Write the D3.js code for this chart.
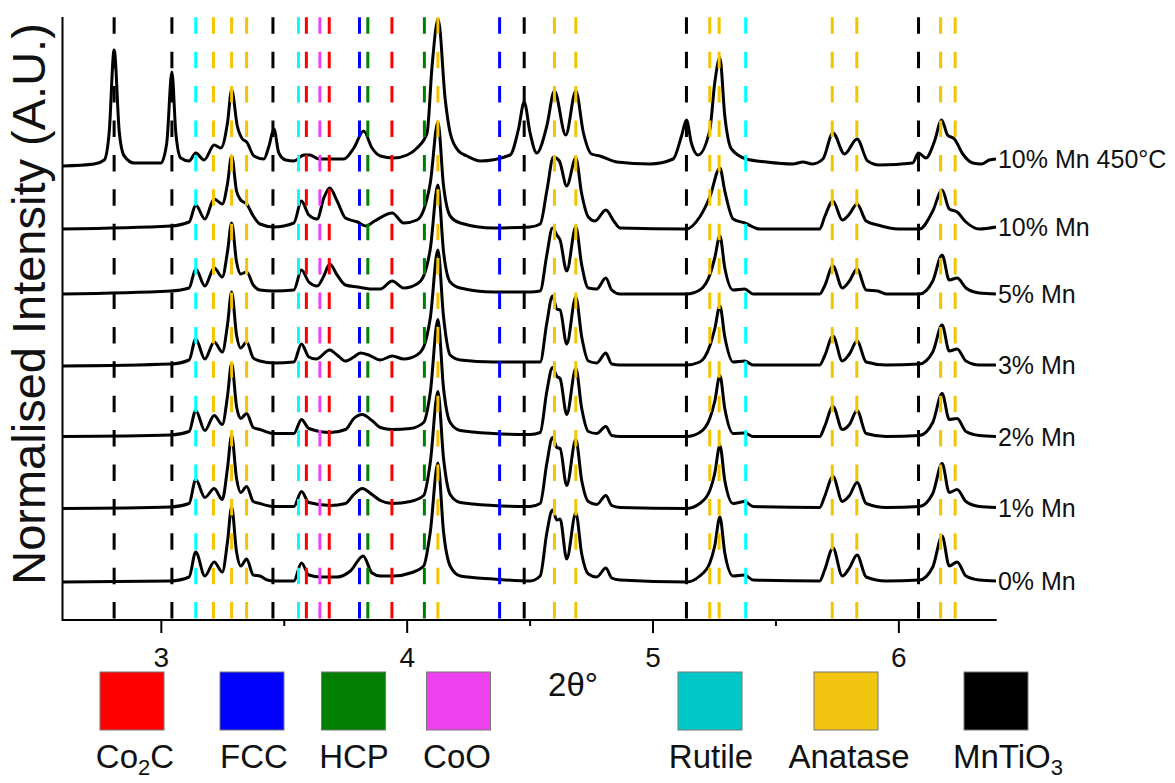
<!DOCTYPE html>
<html>
<head>
<meta charset="utf-8">
<script src="https://cdn.jsdelivr.net/npm/d3@7"></script>
<style>
  html, body { margin: 0; padding: 0; background: #fff; }
  svg { display: block; font-family: "Liberation Sans", Arial, sans-serif; }
</style>
</head>
<body>
<svg id="chart" width="1175" height="783"></svg>
<script>
// ---- Diffraction patterns: [2θ (deg), intensity above the trace offset] ----
const mn0 = [[2.60,0],[3.04,0.01],[3.115,0.05],[3.142,0.30],[3.179,0.06],[3.217,0.20],[3.250,0.10],[3.271,0.40],[3.288,0.75],[3.308,0.30],[3.325,0.16],[3.349,0.23],[3.376,0.07],[3.403,0.06],[3.433,0.02],[3.460,0.01],[3.541,0.01],[3.572,0.19],[3.602,0.07],[3.650,0.05],[3.717,0.05],[3.771,0.11],[3.823,0.26],[3.859,0.09],[3.893,0.06],[3.947,0.06],[4.015,0.09],[4.069,0.16],[4.096,0.50],[4.127,1.19],[4.150,0.50],[4.177,0.16],[4.218,0.06],[4.353,0.03],[4.502,0.01],[4.543,0.06],[4.570,0.49],[4.593,0.72],[4.611,0.62],[4.624,0.63],[4.651,0.23],[4.688,0.69],[4.712,0.28],[4.739,0.08],[4.773,0.05],[4.810,0.14],[4.834,0.04],[4.868,0.02],[5.138,0],[5.192,0.06],[5.233,0.19],[5.253,0.36],[5.274,0.65],[5.294,0.29],[5.328,0.06],[5.375,0.07],[5.409,0.02],[5.680,0.01],[5.700,0.12],[5.734,0.34],[5.772,0.06],[5.801,0.14],[5.832,0.27],[5.869,0.05],[5.950,0.01],[6.086,0.02],[6.140,0.15],[6.178,0.46],[6.207,0.16],[6.239,0.20],[6.275,0.06],[6.329,0.02],[6.397,0.01]];
const mn1 = [[2.60,0],[3.04,0.015],[3.115,0.05],[3.142,0.29],[3.179,0.11],[3.217,0.20],[3.250,0.09],[3.271,0.40],[3.288,0.73],[3.308,0.30],[3.325,0.16],[3.349,0.22],[3.376,0.07],[3.403,0.05],[3.460,0.02],[3.541,0.02],[3.572,0.17],[3.602,0.06],[3.690,0.03],[3.751,0.05],[3.785,0.14],[3.819,0.20],[3.859,0.14],[3.893,0.08],[3.941,0.05],[4.015,0.07],[4.069,0.13],[4.096,0.46],[4.127,1.17],[4.150,0.50],[4.177,0.14],[4.218,0.06],[4.353,0.03],[4.502,0.02],[4.543,0.05],[4.570,0.45],[4.593,0.71],[4.611,0.61],[4.624,0.60],[4.651,0.23],[4.688,0.69],[4.712,0.28],[4.739,0.07],[4.773,0.04],[4.810,0.13],[4.834,0.03],[4.868,0.01],[5.138,0],[5.192,0.05],[5.233,0.18],[5.253,0.35],[5.274,0.63],[5.294,0.28],[5.328,0.05],[5.375,0.07],[5.409,0.02],[5.680,0.01],[5.700,0.12],[5.734,0.32],[5.772,0.07],[5.801,0.13],[5.832,0.26],[5.869,0.05],[5.950,0.01],[6.086,0.02],[6.140,0.15],[6.178,0.45],[6.207,0.16],[6.239,0.19],[6.275,0.07],[6.329,0.02],[6.397,0.01]];
const mn2 = [[2.60,0],[3.04,0.015],[3.115,0.05],[3.142,0.26],[3.179,0.06],[3.217,0.21],[3.250,0.12],[3.271,0.40],[3.288,0.73],[3.308,0.30],[3.325,0.18],[3.349,0.23],[3.376,0.09],[3.403,0.07],[3.460,0.03],[3.541,0.03],[3.572,0.17],[3.602,0.08],[3.690,0.04],[3.751,0.07],[3.785,0.18],[3.819,0.22],[3.859,0.16],[3.893,0.09],[3.941,0.07],[4.015,0.08],[4.069,0.14],[4.096,0.44],[4.127,1.17],[4.150,0.48],[4.177,0.14],[4.218,0.06],[4.353,0.03],[4.502,0.02],[4.543,0.04],[4.570,0.45],[4.593,0.69],[4.611,0.60],[4.624,0.58],[4.651,0.22],[4.688,0.68],[4.712,0.28],[4.739,0.05],[4.773,0.03],[4.810,0.10],[4.834,0.01],[4.868,0],[5.138,0],[5.192,0.04],[5.233,0.18],[5.253,0.35],[5.274,0.61],[5.294,0.28],[5.328,0.03],[5.375,0.035],[5.409,0],[5.680,0],[5.700,0.10],[5.734,0.30],[5.772,0.07],[5.801,0.12],[5.832,0.26],[5.869,0.03],[5.950,0],[6.086,0.01],[6.140,0.14],[6.178,0.43],[6.207,0.17],[6.239,0.18],[6.275,0.05],[6.329,0.01],[6.397,0]];
const mn3 = [[2.60,-0.01],[3.04,0.01],[3.115,0.05],[3.142,0.26],[3.179,0.06],[3.217,0.23],[3.250,0.13],[3.271,0.40],[3.288,0.73],[3.308,0.30],[3.325,0.17],[3.349,0.23],[3.376,0.07],[3.403,0.04],[3.460,0.02],[3.541,0.03],[3.572,0.21],[3.602,0.08],[3.632,0.06],[3.687,0.15],[3.717,0.10],[3.751,0.04],[3.785,0.08],[3.812,0.12],[3.845,0.10],[3.893,0.05],[3.941,0.09],[3.988,0.06],[4.042,0.10],[4.069,0.18],[4.096,0.47],[4.127,1.15],[4.150,0.48],[4.177,0.10],[4.218,0.05],[4.353,0.03],[4.502,0.03],[4.543,0.03],[4.570,0.42],[4.593,0.69],[4.611,0.56],[4.624,0.55],[4.651,0.21],[4.688,0.68],[4.712,0.28],[4.739,0.04],[4.773,0.02],[4.810,0.12],[4.834,0.01],[4.868,0],[5.138,0],[5.192,0.03],[5.233,0.19],[5.253,0.36],[5.274,0.59],[5.294,0.28],[5.328,0.03],[5.375,0.04],[5.409,0],[5.680,0],[5.700,0.09],[5.734,0.29],[5.772,0.04],[5.801,0.11],[5.832,0.24],[5.869,0.03],[5.950,0],[6.086,0.01],[6.140,0.13],[6.178,0.40],[6.207,0.14],[6.239,0.16],[6.275,0.04],[6.329,0],[6.397,0]];
const mn5 = [[2.60,0],[3.04,0.03],[3.115,0.06],[3.142,0.25],[3.179,0.08],[3.217,0.26],[3.250,0.17],[3.271,0.42],[3.288,0.71],[3.308,0.32],[3.325,0.20],[3.349,0.22],[3.376,0.09],[3.403,0.04],[3.460,0.03],[3.541,0.04],[3.572,0.24],[3.602,0.12],[3.636,0.08],[3.663,0.18],[3.687,0.30],[3.717,0.19],[3.751,0.09],[3.800,0.07],[3.859,0.05],[3.893,0.05],[3.941,0.13],[3.988,0.06],[4.042,0.10],[4.069,0.18],[4.096,0.45],[4.127,1.09],[4.150,0.42],[4.177,0.12],[4.218,0.06],[4.353,0.02],[4.502,0.02],[4.543,0.03],[4.570,0.39],[4.593,0.66],[4.611,0.59],[4.624,0.54],[4.651,0.23],[4.688,0.67],[4.712,0.29],[4.739,0.06],[4.773,0.05],[4.810,0.16],[4.834,0.04],[4.868,0],[5.138,0],[5.192,0.04],[5.233,0.19],[5.253,0.36],[5.274,0.58],[5.294,0.26],[5.328,0.04],[5.375,0.05],[5.409,0],[5.680,0],[5.700,0.08],[5.734,0.28],[5.772,0.06],[5.801,0.13],[5.832,0.25],[5.869,0.04],[5.916,0.03],[5.950,0],[6.086,0],[6.140,0.13],[6.178,0.39],[6.207,0.14],[6.239,0.16],[6.275,0.06],[6.329,0.01],[6.397,0]];
const mn10 = [[2.60,0],[3.04,0.03],[3.115,0.07],[3.142,0.24],[3.179,0.10],[3.217,0.30],[3.250,0.25],[3.271,0.45],[3.288,0.73],[3.308,0.38],[3.325,0.29],[3.349,0.25],[3.376,0.13],[3.403,0.05],[3.460,0.02],[3.541,0.06],[3.572,0.28],[3.602,0.14],[3.636,0.10],[3.663,0.31],[3.687,0.41],[3.717,0.28],[3.751,0.11],[3.800,0.07],[3.833,0.03],[3.870,0.08],[3.941,0.16],[3.988,0.06],[4.042,0.09],[4.069,0.19],[4.096,0.46],[4.127,1.07],[4.150,0.43],[4.177,0.13],[4.218,0.06],[4.353,0.01],[4.502,0.02],[4.543,0.05],[4.570,0.38],[4.597,0.72],[4.621,0.68],[4.651,0.43],[4.688,0.71],[4.712,0.35],[4.739,0.12],[4.766,0.08],[4.810,0.19],[4.845,0.07],[4.868,0.01],[5.138,0],[5.192,0.12],[5.233,0.32],[5.274,0.61],[5.294,0.38],[5.328,0.10],[5.375,0.06],[5.438,0],[5.680,0],[5.700,0.12],[5.734,0.28],[5.772,0.09],[5.801,0.15],[5.832,0.25],[5.869,0.08],[5.916,0.04],[6.000,0],[6.086,0],[6.140,0.18],[6.178,0.39],[6.207,0.20],[6.239,0.17],[6.275,0.07],[6.329,0],[6.397,0.02]];
const mn10c450 = [[2.60,0],[2.729,0.02],[2.770,0.06],[2.790,0.34],[2.810,1.16],[2.831,0.34],[2.851,0.10],[2.892,0.03],[3.000,0.03],[3.024,0.23],[3.045,0.94],[3.061,0.33],[3.081,0.08],[3.115,0.05],[3.142,0.13],[3.176,0.06],[3.217,0.21],[3.244,0.18],[3.271,0.43],[3.288,0.76],[3.311,0.40],[3.332,0.27],[3.349,0.24],[3.379,0.10],[3.419,0.07],[3.440,0.20],[3.460,0.37],[3.480,0.13],[3.508,0.06],[3.541,0.05],[3.582,0.11],[3.606,0.11],[3.643,0.07],[3.744,0.07],[3.785,0.18],[3.825,0.35],[3.859,0.18],[3.893,0.10],[3.947,0.08],[4.002,0.11],[4.042,0.18],[4.083,0.33],[4.103,0.99],[4.128,1.47],[4.157,0.66],[4.177,0.33],[4.211,0.15],[4.245,0.10],[4.300,0.05],[4.421,0.11],[4.455,0.37],[4.478,0.64],[4.502,0.33],[4.529,0.13],[4.570,0.40],[4.601,0.75],[4.647,0.31],[4.688,0.75],[4.719,0.33],[4.752,0.12],[4.786,0.10],[4.854,0.04],[4.990,0.02],[5.084,0.07],[5.118,0.30],[5.138,0.46],[5.158,0.23],[5.185,0.11],[5.233,0.36],[5.253,0.83],[5.274,1.08],[5.294,0.50],[5.321,0.17],[5.382,0.07],[5.463,0.04],[5.571,0.02],[5.612,0.04],[5.650,0.02],[5.693,0.07],[5.734,0.33],[5.781,0.12],[5.832,0.27],[5.875,0.05],[5.923,0.01],[6.058,0.03],[6.082,0.13],[6.112,0.08],[6.146,0.24],[6.176,0.46],[6.200,0.31],[6.228,0.27],[6.262,0.12],[6.303,0.03],[6.337,0.02],[6.370,0.06],[6.397,0.07]];

// Sample names and vertical offsets of each pattern (same order)
const sampleLabels = ["0% Mn", "1% Mn", "2% Mn", "3% Mn", "5% Mn", "10% Mn", "10% Mn 450°C"];
const sampleOffsets = [0.38, 1.115, 1.835, 2.55, 3.26, 3.91, 4.54];
const samplePatterns = [mn0, mn1, mn2, mn3, mn5, mn10, mn10c450];

// Reference reflection positions (2θ) for each phase
const phaseNames = ["Co\u2082C", "FCC", "HCP", "CoO", "Rutile", "Anatase", "MnTiO\u2083"];
const co2cPeaks = [3.592, 3.685, 3.940];
const fccPeaks = [3.808, 4.378];
const hcpPeaks = [3.842, 4.072];
const cooPeaks = [3.647];
const rutilePeaks = [3.142, 3.560, 5.379];
const anatasePeaks = [3.214, 3.288, 3.349, 4.127, 4.601, 4.688, 5.233, 5.271, 5.731, 5.831, 6.172, 6.231];
const mntio3Peaks = [2.810, 3.045, 3.456, 4.478, 5.138, 6.082];

// Axis ticks
const majorTicks = [3, 4, 5, 6];
const minorTicks = [3.5, 4.5, 5.5];

// ---- Drawing ----
const svg = d3.select("#chart");
const x = d3.scaleLinear().domain([2.6, 6.4]).range([62.5, 996.7]);
const y = d3.scaleLinear().domain([0, 6.02]).range([620, 18]);

const phases = [
  { name: phaseNames[0], peaks: co2cPeaks,    line: "#ff0000", swatch: "#ff0000" },
  { name: phaseNames[1], peaks: fccPeaks,     line: "#0000ff", swatch: "#0000ff" },
  { name: phaseNames[2], peaks: hcpPeaks,     line: "#008000", swatch: "#007f00" },
  { name: phaseNames[3], peaks: cooPeaks,     line: "#ee44ee", swatch: "#ee40ee" },
  { name: phaseNames[4], peaks: rutilePeaks,  line: "#00ffff", swatch: "#00c8c8" },
  { name: phaseNames[5], peaks: anatasePeaks, line: "#f5c400", swatch: "#f2c511" },
  { name: phaseNames[6], peaks: mntio3Peaks,  line: "#000000", swatch: "#000000" }
];

// Patterns
const traces = svg.append("g");
samplePatterns.forEach((pts, i) => {
  const off = sampleOffsets[i];
  const line = d3.line()
    .x(d => x(d[0]))
    .y(d => y(off + d[1]))
    .curve(d3.curveMonotoneX);
  traces.append("path")
    .datum(pts)
    .attr("d", line)
    .attr("fill", "none")
    .attr("stroke", "#000")
    .attr("stroke-width", 3)
    .attr("stroke-linejoin", "round");
  const last = pts[pts.length - 1];
  traces.append("text")
    .attr("x", x(last[0]) + 2)
    .attr("y", y(off + last[1]) + 9)
    .style("font-size", "25px")
    .attr("fill", "#111")
    .text(sampleLabels[i]);
});

// Reference drop lines (dashed), drawn over the patterns
const refs = svg.append("g");
phases.forEach(p => {
  refs.selectAll(null)
    .data(p.peaks)
    .join("line")
    .attr("x1", d => x(d)).attr("x2", d => x(d))
    .attr("y1", 17.3).attr("y2", 620)
    .attr("stroke", p.line)
    .attr("stroke-width", 3)
    .attr("stroke-dasharray", "16.5,17.9");
});

// Axes
const axG = svg.append("g").attr("transform", "translate(0,620)");
axG.call(d3.axisBottom(x).tickValues(majorTicks).tickSize(13).tickPadding(14).tickSizeOuter(0).tickFormat(d3.format("d")));
axG.attr("font-size", null).attr("font-family", null);
axG.select(".domain").remove();
axG.selectAll(".tick line").attr("stroke", "#000").attr("stroke-width", 2);
axG.selectAll(".tick text")
  .style("font-size", "28px")
  .style("font-family", "'Liberation Sans', Arial, sans-serif")
  .attr("fill", "#111");

const minG = svg.append("g").attr("transform", "translate(0,620)");
minG.call(d3.axisBottom(x).tickValues(minorTicks).tickSize(6).tickSizeOuter(0).tickFormat(""));
minG.select(".domain").remove();
minG.selectAll(".tick line").attr("stroke", "#000").attr("stroke-width", 2);

svg.append("line").attr("x1", x(2.6)).attr("x2", x(6.4)).attr("y1", 620).attr("y2", 620)
  .attr("stroke", "#000").attr("stroke-width", 2);
svg.append("line").attr("x1", x(2.6)).attr("x2", x(2.6)).attr("y1", 17).attr("y2", 621)
  .attr("stroke", "#000").attr("stroke-width", 2);

// Axis titles
svg.append("text")
  .attr("transform", "translate(45,304) rotate(-90)")
  .attr("text-anchor", "middle")
  .style("font-size", "47px")
  .attr("fill", "#111")
  .text("Normalised Intensity (A.U.)");

svg.append("text")
  .attr("x", 573).attr("y", 696)
  .attr("text-anchor", "middle")
  .style("font-size", "33px")
  .attr("fill", "#111")
  .text("2θ°");

// Legend swatches
const legendX = [132, 252, 353.5, 458.5, 710, 846, 996];
const legendTextX = [135, 254, 354, 457, 711, 849, 1008];
const lg = svg.append("g");
phases.forEach((p, i) => {
  lg.append("rect")
    .attr("x", legendX[i] - 32).attr("y", 672)
    .attr("width", 64).attr("height", 58)
    .attr("fill", p.swatch)
    .attr("stroke", "#777").attr("stroke-width", 1);
  const t = lg.append("text")
    .attr("x", legendTextX[i]).attr("y", 768)
    .attr("text-anchor", "middle")
    .style("font-size", "33px")
    .attr("fill", "#111");
  const sub = p.name.match(/^(.*?)([\u2082\u2083])(.*)$/);
  if (sub) {
    t.append("tspan").text(sub[1]);
    t.append("tspan").style("font-size", "22px").attr("dy", 7).text(sub[2] === "\u2082" ? "2" : "3");
    t.append("tspan").attr("dy", -7).text(sub[3]);
  } else {
    t.text(p.name);
  }
});
</script>
</body>
</html>
